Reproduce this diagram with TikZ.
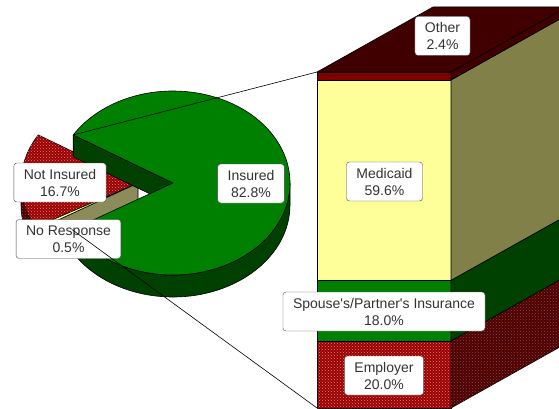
\documentclass[tikz,border=0pt]{standalone}
\usepackage{fontspec}
\setmainfont{Liberation Sans}
\usetikzlibrary{patterns}
\definecolor{piegreen}{HTML}{008000}
\definecolor{piegreendark}{HTML}{004000}
\definecolor{hatchred}{HTML}{990000}
\definecolor{hatchdot}{HTML}{E08080}
\definecolor{hatchreddark}{HTML}{4C0000}
\definecolor{hatchdotdark}{HTML}{904040}
\definecolor{medyellow}{HTML}{FFFF99}
\definecolor{medolive}{HTML}{808048}
\definecolor{khaki}{HTML}{8C8C5A}
\definecolor{otherred}{HTML}{800000}
\definecolor{othertop}{HTML}{400000}
\begin{document}
\begin{tikzpicture}[x=1pt, y=1pt,
labelbox/.style={rectangle, rounded corners=3pt, draw=black!70, fill=white, text=black!80, align=center, font=\fontsize{14}{17}\selectfont, inner xsep=10pt, inner ysep=0pt, minimum height=39pt},
face/.style={draw=black, line width=0.6pt, line join=round},
redhatch/.style={fill=hatchred, postaction={pattern=crosshatch dots, pattern color=hatchdot}},
redhatchdark/.style={fill=hatchreddark, postaction={pattern=crosshatch dots, pattern color=hatchdotdark}},
ell/.style={x radius=117, y radius=92},
]
\useasboundingbox (0,0) rectangle (559,408);
\clip (0,0) rectangle (559,408);
%Exploded slice
\draw[face, redhatchdark] (138,225) ++(180:117 and 92) arc[start angle=180, end angle=208.7, ell] -- ++(0,-22) arc[start angle=208.7, end angle=180, ell] -- cycle;
\draw[face, fill=medolive] (138,225) ++(208.7:117 and 92) arc[start angle=208.7, end angle=210.5, ell] -- ++(0,-22) arc[start angle=210.5, end angle=208.7, ell] -- cycle;
\draw[face, fill=khaki] (138,225) -- ++(210.5:117 and 92) -- ++(0,-22) -- (138,203) -- cycle;
\draw[face, redhatch] (138,225) -- ++(148.5:117 and 92) arc[start angle=148.5, end angle=208.7, ell] -- cycle;
\draw[face, fill=medyellow] (138,225) -- ++(208.7:117 and 92) arc[start angle=208.7, end angle=210.5, ell] -- cycle;
%Pie
\draw[face, fill=piegreendark] (173,225) ++(210.5:117 and 92) arc[start angle=210.5, end angle=360, ell] -- ++(0,-22) arc[start angle=360, end angle=210.5, ell] -- cycle;
\draw[face, fill=piegreendark] (173,225) -- ++(148.5:117 and 92) -- ++(0,-22) -- (173,203) -- cycle;
\draw[face, fill=piegreen] (173,225) -- ++(210.5:117 and 92) coordinate (wedgelow) arc[start angle=210.5, end angle=508.5, ell] coordinate (wedgetop) -- cycle;
%Bar
\draw[face, redhatch] (317,0) rectangle (451,67.2);
\draw[face, fill=piegreen] (317,67.2) rectangle (451,127.7);
\draw[face, fill=medyellow] (317,127.7) rectangle (451,328);
\draw[face, fill=otherred] (317,328) rectangle (451,336);
\draw[face, redhatchdark] (451,0) -- (567,65) -- (567,132.2) -- (451,67.2) -- cycle;
\draw[face, fill=piegreendark] (451,67.2) -- (567,132.2) -- (567,192.7) -- (451,127.7) -- cycle;
\draw[face, fill=medolive] (451,127.7) -- (567,192.7) -- (567,393) -- (451,328) -- cycle;
\draw[face, fill=othertop] (451,328) -- (567,393) -- (567,401) -- (451,336) -- cycle;
\draw[face, fill=othertop] (317,336) -- (451,336) -- (567,401) -- (433,401) -- cycle;
\coordinate (bartop) at (317,336);
\coordinate (barbottom) at (317,0);
%Nodes
\node[labelbox](notinsured) at (60,225.5) {Not Insured\\16.7\%};
\node[labelbox](noresponse) at (68.5,169) {No Response\\0.5\%};
\node[labelbox](insured) at (251,224.5) {Insured\\82.8\%};
\node[labelbox](other) at (442.5,372) {Other\\2.4\%};
\node[labelbox](medicaid) at (384.5,226.5) {Medicaid\\59.6\%};
\node[labelbox](spouse) at (384,96.5) {Spouse\textquotesingle s/Partner\textquotesingle s Insurance\\18.0\%};
\node[labelbox](employer) at (384,32.5) {Employer\\20.0\%};
%Lines
\draw[line width=0.6pt] (wedgetop) -- (bartop);
\draw[line width=0.6pt] (wedgelow) -- (barbottom);
\end{tikzpicture}
\end{document}
